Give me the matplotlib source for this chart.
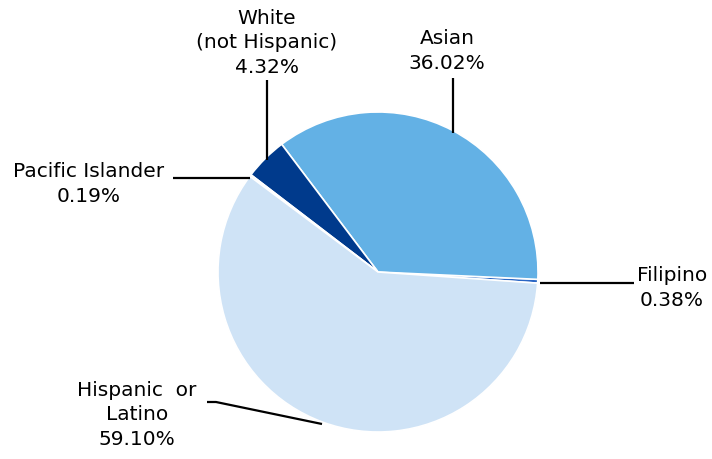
import matplotlib.pyplot as plt

# slices, counterclockwise starting just below 3 o'clock
groups = ['Filipino', 'Asian', 'White\n(not Hispanic)', 'Pacific Islander', 'Hispanic  or\nLatino']
shares = [0.38, 36.02, 4.32, 0.19, 59.10]
colors = ['#2a66c4', '#63b1e5', '#003a8c', '#f4f8fc', '#cfe3f6']

W, H = 712, 459
fig = plt.figure(figsize=(W / 100, H / 100), dpi=100)
ax = fig.add_axes([0, 0, 1, 1])

cx, cy, r = 378, H - 272, 160
ax.pie(shares, colors=colors, startangle=-4, counterclock=True,
       center=(cx, cy), radius=r, frame=True,
       wedgeprops=dict(edgecolor='white', linewidth=1.2))
ax.set_xlim(0, W)
ax.set_ylim(0, H)
ax.set_aspect('equal')
ax.axis('off')

font = dict(family='DejaVu Sans', fontsize=14.5, color='black', linespacing=1.34)
line = dict(color='black', lw=1.6, solid_capstyle='butt')

def py(y):
    return H - y

# leader lines (pixel layout)
ax.plot([453, 453], [py(78), py(133)], **line)
ax.plot([267, 267], [py(80), py(160)], **line)
ax.plot([173, 250], [py(178), py(178)], **line)
ax.plot([540, 634], [py(283), py(283)], **line)
ax.plot([207, 216, 322], [py(402), py(402), py(424)], **line)

pct = ['%.2f%%' % s for s in shares]
ax.text(447, py(51), groups[1] + '\n' + pct[1], ha='center', va='center', **font)
ax.text(267, py(43), groups[2] + '\n' + pct[2], ha='center', va='center', **font)
ax.text(89, py(184), groups[3] + '\n' + pct[3], ha='center', va='center', **font)
ax.text(672, py(288), groups[0] + '\n' + pct[0], ha='center', va='center', **font)
ax.text(137, py(415), groups[4] + '\n' + pct[4], ha='center', va='center', **font)

fig.savefig('out.png', dpi=100, facecolor='white')
